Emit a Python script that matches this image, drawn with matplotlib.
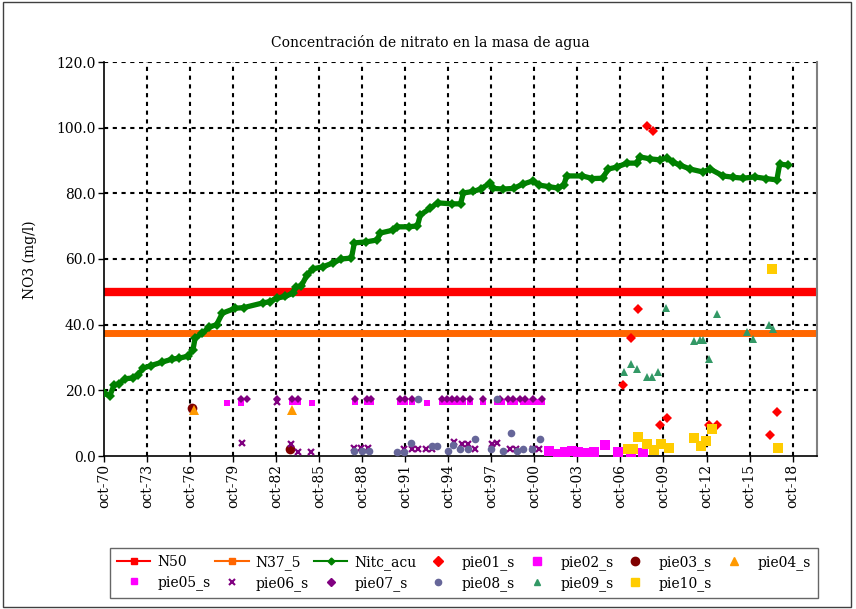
import matplotlib
matplotlib.use("Agg")
import matplotlib.pyplot as plt
from matplotlib.lines import Line2D
from matplotlib.patches import Rectangle

# ---------------- data (decimal years, mg/l) ----------------
title = "Concentración de nitrato en la masa de agua"
y_label = "NO3 (mg/l)"
x_tick_years = list(range(1970, 2019, 3))
x_tick_labels = ["oct-70", "oct-73", "oct-76", "oct-79", "oct-82", "oct-85", "oct-88",
                 "oct-91", "oct-94", "oct-97", "oct-00", "oct-03", "oct-06", "oct-09",
                 "oct-12", "oct-15", "oct-18"]
y_ticks = [0, 20, 40, 60, 80, 100, 120]

N50_value = 50.0
N37_5_value = 37.5

nitc_x = [1970.75, 1971.15, 1971.45, 1971.8, 1972.2, 1972.8, 1973.1, 1973.5, 1974.0, 1974.8,
          1975.5, 1976.0, 1976.6, 1976.95, 1977.1, 1977.6, 1978.1, 1978.6, 1979.0, 1979.9,
          1980.5, 1981.8, 1982.3, 1982.8, 1983.4, 1983.9, 1984.1, 1984.5, 1984.9, 1985.3,
          1986.0, 1986.7, 1987.3, 1988.0, 1988.2, 1989.0, 1989.8, 1990.0, 1990.9, 1991.2,
          1992.0, 1992.6, 1992.8, 1993.5, 1994.0, 1995.0, 1995.6, 1995.8, 1996.5, 1997.0,
          1997.65, 1997.9, 1998.55, 1999.3, 1999.95, 2000.65, 2001.1, 2001.8, 2002.4, 2002.8,
          2003.0, 2004.1, 2004.8, 2005.5, 2005.9, 2006.5, 2007.2, 2007.9, 2008.1, 2008.8,
          2009.5, 2010.0, 2010.4, 2010.9, 2011.6, 2012.5, 2013.0, 2013.9, 2014.6, 2015.3,
          2016.1, 2016.9, 2017.65, 2017.85, 2018.4]
nitc_y = [19.2, 18.3, 21.6, 22.0, 23.5, 23.8, 24.7, 26.8, 27.5, 28.6,
          29.5, 29.8, 30.4, 32.3, 35.9, 37.4, 39.3, 40.0, 43.5, 45.0,
          45.2, 46.6, 47.0, 48.1, 48.6, 49.6, 51.5, 51.8, 55.1, 57.0,
          57.6, 58.8, 60.0, 60.3, 64.9, 65.2, 65.8, 67.9, 68.8, 69.8,
          69.8, 70.1, 73.4, 75.5, 77.1, 76.8, 76.8, 80.1, 80.6, 81.3,
          83.1, 81.5, 81.3, 81.5, 82.8, 83.8, 82.5, 82.0, 81.6, 82.5,
          85.3, 85.3, 84.5, 84.6, 87.4, 88.0, 89.2, 89.2, 91.1, 90.5,
          90.2, 90.8, 89.5, 88.6, 87.4, 86.5, 87.4, 85.3, 84.9, 84.6,
          85.0, 84.5, 84.1, 88.9, 88.6]

pie01_x = [2006.9, 2007.5, 2007.95, 2008.6, 2009.0, 2009.5, 2010.0, 2012.9, 2013.5, 2017.2, 2017.65]
pie01_y = [21.6, 35.9, 44.8, 100.5, 99.0, 9.4, 11.6, 9.4, 9.4, 6.4, 13.4]

pie02_x = [2001.75, 2002.4, 2002.9, 2003.4, 2003.8, 2004.4, 2004.9, 2005.7, 2006.6, 2007.5, 2008.3]
pie02_y = [1.5, 0.6, 1.2, 1.5, 1.2, 0.9, 1.2, 3.4, 1.2, 0.0, 0.9]

pie03_x = [1976.9, 1983.7]
pie03_y = [14.6, 2.1]

pie04_x = [1977.05, 1983.85]
pie04_y = [14.0, 14.0]

pie05_x = [1979.32, 1980.30, 1983.85, 1984.27, 1985.24, 1988.24, 1989.08, 1989.36, 1991.38,
           1991.73, 1992.21, 1993.26, 1994.30, 1994.65, 1995.0, 1995.35, 1995.77, 1996.26,
           1997.16, 1998.14, 1998.49, 1999.04, 1999.39, 1999.95, 2000.30, 2000.65, 2001.0,
           2001.27]
pie05_y = [16.2, 16.2, 16.3, 16.3, 16.2, 16.3, 16.3, 16.3, 16.3,
           16.3, 16.3, 16.1, 16.3, 16.3, 16.3, 16.3, 16.3, 16.3,
           16.3, 16.3, 16.3, 16.3, 16.3, 16.3, 16.3, 16.3, 16.3,
           16.3]

pie06_x = [1980.37, 1982.8, 1983.8, 1984.27, 1985.2, 1988.17, 1988.66, 1989.15, 1991.66,
           1992.2, 1992.63, 1993.19, 1993.6, 1995.14, 1995.7, 1996.1, 1996.6, 1997.8,
           1998.14, 1999.04, 1999.5, 2000.65, 2001.1]
pie06_y = [4.0, 16.5, 3.7, 1.2, 1.2, 2.5, 2.5, 2.5, 2.1,
           2.1, 2.1, 2.1, 2.1, 4.3, 3.7, 3.7, 2.1, 3.7,
           4.0, 2.1, 2.1, 2.1, 2.1]

pie07_x = [1980.30, 1980.72, 1982.81, 1983.85, 1984.27, 1988.24, 1989.08, 1989.36, 1991.38,
           1991.73, 1992.21, 1994.30, 1994.65, 1995.0, 1995.35, 1995.77, 1996.26, 1997.16,
           1998.35, 1998.90, 1999.25, 1999.74, 2000.09, 2000.65, 2001.27]
pie07_y = [17.4, 17.4, 17.4, 17.4, 17.4, 17.4, 17.4, 17.4, 17.4,
           17.4, 17.4, 17.4, 17.4, 17.4, 17.4, 17.4, 17.4, 17.4,
           17.4, 17.4, 17.4, 17.4, 17.4, 17.4, 17.4]

pie08_x = [1988.2, 1988.7, 1989.2, 1991.17, 1991.66, 1992.14, 1992.63, 1993.6, 1993.96,
           1994.72, 1995.07, 1995.56, 1996.12, 1996.6, 1997.72, 1998.14, 1998.55, 1999.1,
           1999.53, 1999.95, 2000.58, 2001.13]
pie08_y = [1.5, 1.5, 1.5, 1.2, 1.2, 4.0, 17.4, 3.0, 3.0,
           1.5, 3.4, 2.1, 2.1, 5.2, 2.1, 17.4, 1.5, 7.0,
           1.5, 2.1, 2.1, 5.2]

pie09_x = [2007.0, 2007.5, 2007.9, 2008.6, 2008.95, 2009.4, 2009.9, 2011.9, 2012.3, 2012.5,
           2012.9, 2013.5, 2015.6, 2016.0, 2017.1, 2017.4]
pie09_y = [25.6, 28.0, 26.5, 24.1, 24.1, 25.6, 45.1, 35.0, 35.3, 35.3,
           29.5, 43.2, 37.8, 35.6, 39.9, 38.7]

pie10_x = [2007.3, 2007.6, 2008.0, 2008.6, 2009.1, 2009.6, 2010.1, 2011.9, 2012.35, 2012.7,
           2013.1, 2017.3, 2017.7]
pie10_y = [2.1, 2.1, 5.8, 3.7, 1.8, 3.7, 2.4, 5.5, 3.0, 4.6,
           8.2, 57.0, 2.4]

# ---------------- figure ----------------
plt.rcParams['font.family'] = ['DejaVu Serif']
fig = plt.figure(figsize=(8.56, 6.09), dpi=100)
fig.patches.append(Rectangle((3 / 856, 2 / 609), 848 / 856, 605 / 609, transform=fig.transFigure,
                             fill=False, edgecolor='#404040', linewidth=1.0))

ax = fig.add_axes([104 / 856, 1 - 456 / 609, (817 - 104) / 856, (456 - 62) / 609])

x_ticks = [y + 0.75 for y in x_tick_years]
ax.set_xlim(1970.75, 2020.45)
ax.set_ylim(0, 120)

grid_style = dict(color='black', linestyle=(0, (2, 2.2)), linewidth=1.5, zorder=1)
for xt in x_ticks[1:]:
    ax.axvline(xt, **grid_style)
for yt in y_ticks[1:]:
    ax.axhline(yt, **grid_style)

ax.axhline(N50_value, color='#FF0000', linewidth=6, zorder=2)
ax.axhline(N37_5_value, color='#FF6600', linewidth=5, zorder=2)

ax.plot(nitc_x, nitc_y, color='#008000', linewidth=3.8, marker='D', markersize=5,
        markeredgewidth=0, zorder=3)

ms = dict(linestyle='none', zorder=4)
ax.plot(pie01_x, pie01_y, marker='D', color='#FF0000', markersize=5.5, markeredgewidth=0, **ms)
ax.plot(pie02_x, pie02_y, marker='s', color='#FF00FF', markersize=7, markeredgewidth=0, **ms)
ax.plot(pie03_x, pie03_y, marker='o', color='#800000', markersize=7, markeredgewidth=0, **ms)
ax.plot(pie04_x, pie04_y, marker='^', color='#FF9900', markersize=7.5, markeredgewidth=0, **ms)
ax.plot(pie05_x, pie05_y, marker='s', color='#FF00FF', markersize=5, markeredgewidth=0, **ms)
ax.plot(pie06_x, pie06_y, marker='x', color='#800080', markersize=4.5, markeredgewidth=1.6, **ms)
ax.plot(pie07_x, pie07_y, marker='D', color='#800080', markersize=4.5, markeredgewidth=0, **ms)
ax.plot(pie08_x, pie08_y, marker='o', color='#666699', markersize=5.5, markeredgewidth=0, **ms)
ax.plot(pie09_x, pie09_y, marker='^', color='#339966', markersize=5.5, markeredgewidth=0, **ms)
ax.plot(pie10_x, pie10_y, marker='s', color='#FFCC00', markersize=7, markeredgewidth=0, **ms)

ax.set_xticks(x_ticks)
ax.set_xticklabels(x_tick_labels, rotation=90, fontsize=10)
ax.set_yticks(y_ticks)
ax.set_yticklabels([f"{v:.1f}" for v in y_ticks], fontsize=10)
ax.tick_params(axis='both', direction='out', length=4, width=1, colors='black', pad=2)

ax.spines['top'].set_visible(False)
ax.spines['right'].set_color('#808080')
ax.spines['right'].set_linewidth(1.5)
ax.spines['left'].set_linewidth(1.2)
ax.spines['bottom'].set_linewidth(1.2)

fig.text(430 / 856, 1 - 43 / 609, title, ha='center', va='center', fontsize=10)
fig.text(30 / 856, 1 - 260 / 609, y_label, ha='center', va='center', rotation=90, fontsize=10)

# ---------------- legend ----------------
def mk(**kw):
    return Line2D([], [], **kw)

h = {
    'N50': mk(color='#FF0000', linewidth=1.5, marker='s', markersize=4),
    'N37_5': mk(color='#FF6600', linewidth=1.5, marker='s', markersize=4),
    'Nitc_acu': mk(color='#008000', linewidth=1.5, marker='D', markersize=3.5),
    'pie01_s': mk(linestyle='none', marker='D', color='#FF0000', markersize=5),
    'pie02_s': mk(linestyle='none', marker='s', color='#FF00FF', markersize=6),
    'pie03_s': mk(linestyle='none', marker='o', color='#800000', markersize=6),
    'pie04_s': mk(linestyle='none', marker='^', color='#FF9900', markersize=6),
    'pie05_s': mk(linestyle='none', marker='s', color='#FF00FF', markersize=4),
    'pie06_s': mk(linestyle='none', marker='x', color='#800080', markersize=4, markeredgewidth=1.5),
    'pie07_s': mk(linestyle='none', marker='D', color='#800080', markersize=4),
    'pie08_s': mk(linestyle='none', marker='o', color='#666699', markersize=4.5),
    'pie09_s': mk(linestyle='none', marker='^', color='#339966', markersize=4.5),
    'pie10_s': mk(linestyle='none', marker='s', color='#FFCC00', markersize=6),
}
order = ['N50', 'pie05_s', 'N37_5', 'pie06_s', 'Nitc_acu', 'pie07_s', 'pie01_s', 'pie08_s',
         'pie02_s', 'pie09_s', 'pie03_s', 'pie10_s', 'pie04_s']
leg_left, leg_right, leg_top, leg_bottom = 110, 818, 548, 606
leg = fig.legend([h[k] for k in order], order, ncol=7, loc='upper left',
                 bbox_to_anchor=(leg_left / 856, 1 - leg_bottom / 609,
                                 (leg_right - leg_left) / 856, (leg_bottom - leg_top) / 609),
                 mode='expand', fontsize=10, frameon=True, fancybox=False, borderaxespad=0,
                 handlelength=2.4, handletextpad=0.5, columnspacing=0.5, borderpad=0.5,
                 labelspacing=0.45)
leg.get_frame().set_edgecolor('#404040')
leg.get_frame().set_linewidth(1.0)

fig.savefig('out.png', dpi=100)
